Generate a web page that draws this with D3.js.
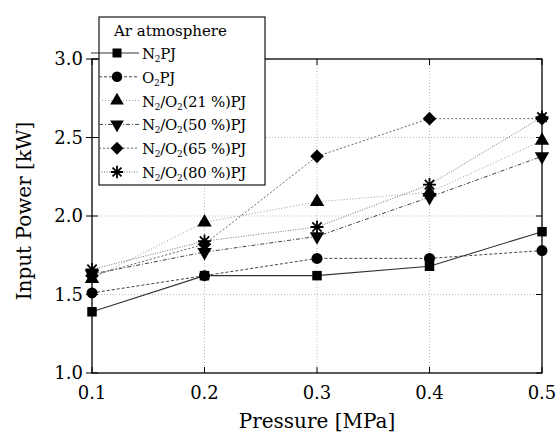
<!DOCTYPE html>
<html>
<head>
<meta charset="utf-8">
<script src="https://cdn.jsdelivr.net/npm/d3@7"></script>
<style>
  body { margin: 0; background: #fff; }
  svg { font-family: "DejaVu Serif", "Liberation Serif", serif; }
</style>
</head>
<body>
<div id="chart"></div>
<script>
const pressures = [0.1, 0.2, 0.3, 0.4, 0.5];
const xTicks = [0.1, 0.2, 0.3, 0.4, 0.5];
const yTicks = [1.0, 1.5, 2.0, 2.5, 3.0];

const n2PJ = [1.39, 1.62, 1.62, 1.68, 1.90];
const o2PJ = [1.51, 1.62, 1.73, 1.73, 1.78];
const mix21 = [1.60, 1.96, 2.09, 2.15, 2.48];
const mix50 = [1.63, 1.77, 1.87, 2.12, 2.38];
const mix65 = [1.62, 1.82, 2.38, 2.62, 2.62];
const mix80 = [1.66, 1.84, 1.93, 2.20, 2.63];

const seriesNames = [
  ["N", "2", "PJ"],
  ["O", "2", "PJ"],
  ["N", "2", "/O", "2", "(21 %)PJ"],
  ["N", "2", "/O", "2", "(50 %)PJ"],
  ["N", "2", "/O", "2", "(65 %)PJ"],
  ["N", "2", "/O", "2", "(80 %)PJ"]
];

(function () {
  const W = 558, H = 440;
  const margin = { top: 59, right: 16, bottom: 67, left: 92 },
    width = W - margin.left - margin.right,
    height = H - margin.top - margin.bottom;

  const svg = d3.select("#chart").append("svg")
    .attr("width", W).attr("height", H);

  const g = svg.append("g")
    .attr("transform", `translate(${margin.left},${margin.top})`);

  const x = d3.scaleLinear().domain([0.1, 0.5]).range([0, width]);
  const y = d3.scaleLinear().domain([1.0, 3.0]).range([height, 0]);

  // grid
  g.selectAll(".vgrid").data(xTicks.slice(1, -1)).join("line")
    .attr("x1", d => x(d)).attr("x2", d => x(d))
    .attr("y1", 0).attr("y2", height)
    .attr("stroke", "#aaa").attr("stroke-width", 0.8)
    .attr("stroke-dasharray", "1,2");
  g.selectAll(".hgrid").data(yTicks.slice(1, -1)).join("line")
    .attr("x1", 0).attr("x2", width)
    .attr("y1", d => y(d)).attr("y2", d => y(d))
    .attr("stroke", "#aaa").attr("stroke-width", 0.8)
    .attr("stroke-dasharray", "1,2");

  // series
  const series = [
    { vals: n2PJ, sym: "square", stroke: "#333", dash: null, w: 1.1 },
    { vals: o2PJ, sym: "circle", stroke: "#444", dash: "3,2", w: 1 },
    { vals: mix21, sym: "triangle", stroke: "#999", dash: "1,2", w: 1 },
    { vals: mix50, sym: "down", stroke: "#444", dash: "4,2,1,2", w: 1 },
    { vals: mix65, sym: "diamond", stroke: "#666", dash: "2,2", w: 1 },
    { vals: mix80, sym: "star", stroke: "#777", dash: "1,1.5", w: 1 }
  ];

  function symbolPath(sym, s) {
    if (sym === "square") return d3.symbol(d3.symbolSquare, 90 * s)();
    if (sym === "circle") return d3.symbol(d3.symbolCircle, 95 * s)();
    if (sym === "triangle") return d3.symbol(d3.symbolTriangle, 90 * s)();
    if (sym === "down") return d3.symbol(d3.symbolTriangle, 90 * s)();
    const r = 6.8 * Math.sqrt(s);
    if (sym === "diamond") return `M0,${-r}L${r},0L0,${r}L${-r},0Z`;
    const a = 6.5 * Math.sqrt(s), d = a * 0.72;
    return `M0,${-a}L0,${a}M${-a},0L${a},0M${-d},${-d}L${d},${d}M${-d},${d}L${d},${-d}`;
  }

  function drawMarker(sel, sym, s) {
    const p = sel.append("path").attr("d", symbolPath(sym, s));
    if (sym === "star") {
      p.attr("fill", "none").attr("stroke", "#000").attr("stroke-width", 1.8);
    } else {
      p.attr("fill", "#000");
    }
    if (sym === "down") p.attr("transform", "rotate(180)");
    return p;
  }

  const line = d3.line().x((d, i) => x(pressures[i])).y(d => y(d));

  series.forEach(s => {
    g.append("path").datum(s.vals)
      .attr("d", line)
      .attr("fill", "none")
      .attr("stroke", s.stroke)
      .attr("stroke-width", s.w)
      .attr("stroke-dasharray", s.dash);
  });
  series.forEach(s => {
    s.vals.forEach((v, i) => {
      const m = g.append("g").attr("transform", `translate(${x(pressures[i])},${y(v)})`);
      drawMarker(m, s.sym, 1);
    });
  });

  // frame
  g.append("rect").attr("width", width).attr("height", height)
    .attr("fill", "none").attr("stroke", "#000").attr("stroke-width", 1.3);

  // ticks
  const tk = 6;
  xTicks.forEach(t => {
    g.append("line").attr("x1", x(t)).attr("x2", x(t))
      .attr("y1", height).attr("y2", height - tk).attr("stroke", "#000");
    g.append("line").attr("x1", x(t)).attr("x2", x(t))
      .attr("y1", 0).attr("y2", tk).attr("stroke", "#000");
  });
  yTicks.forEach(t => {
    g.append("line").attr("x1", -tk).attr("x2", tk)
      .attr("y1", y(t)).attr("y2", y(t)).attr("stroke", "#000");
    g.append("line").attr("x1", width).attr("x2", width - tk)
      .attr("y1", y(t)).attr("y2", y(t)).attr("stroke", "#000");
  });

  // tick labels
  g.selectAll(".xlab").data(xTicks).join("text")
    .attr("x", d => x(d)).attr("y", height + 26)
    .attr("text-anchor", "middle").attr("font-size", "18px")
    .text(d => d.toFixed(1));
  g.selectAll(".ylab").data(yTicks).join("text")
    .attr("x", -9).attr("y", d => y(d) + 6)
    .attr("text-anchor", "end").attr("font-size", "18px")
    .text(d => d.toFixed(1));

  // axis titles
  g.append("text")
    .attr("x", width / 2).attr("y", height + 55)
    .attr("text-anchor", "middle").attr("font-size", "20px")
    .text("Pressure [MPa]");
  g.append("text")
    .attr("transform", `translate(${-61},${height / 2 - 5}) rotate(-90)`)
    .attr("text-anchor", "middle").attr("font-size", "20px")
    .text("Input Power [kW]");

  // legend
  const lg = svg.append("g").attr("transform", "translate(99,17)");
  lg.append("rect").attr("width", 166).attr("height", 168)
    .attr("fill", "#fff").attr("stroke", "#000").attr("stroke-width", 1.1);
  lg.append("text").attr("x", 15).attr("y", 19)
    .attr("font-size", "15px").text("Ar atmosphere");

  series.forEach((s, i) => {
    const yy = 36 + i * 23.8;
    lg.append("line").attr("x1", i === 0 ? -8 : 0).attr("x2", 40)
      .attr("y1", yy).attr("y2", yy)
      .attr("stroke", s.stroke).attr("stroke-width", s.w)
      .attr("stroke-dasharray", s.dash);
    const m = lg.append("g").attr("transform", `translate(18,${yy})`);
    drawMarker(m, s.sym, 0.9);
    const t = lg.append("text").attr("x", 43).attr("y", yy + 6)
      .attr("font-size", "15px").attr("letter-spacing", "-0.3px");
    seriesNames[i].forEach((part, j) => {
      if (part === "2") {
        t.append("tspan").attr("font-size", "9px").attr("dy", 3).text(part);
      } else {
        t.append("tspan").attr("dy", j === 0 ? 0 : -3).text(part);
      }
    });
  });
})();
</script>
</body>
</html>
